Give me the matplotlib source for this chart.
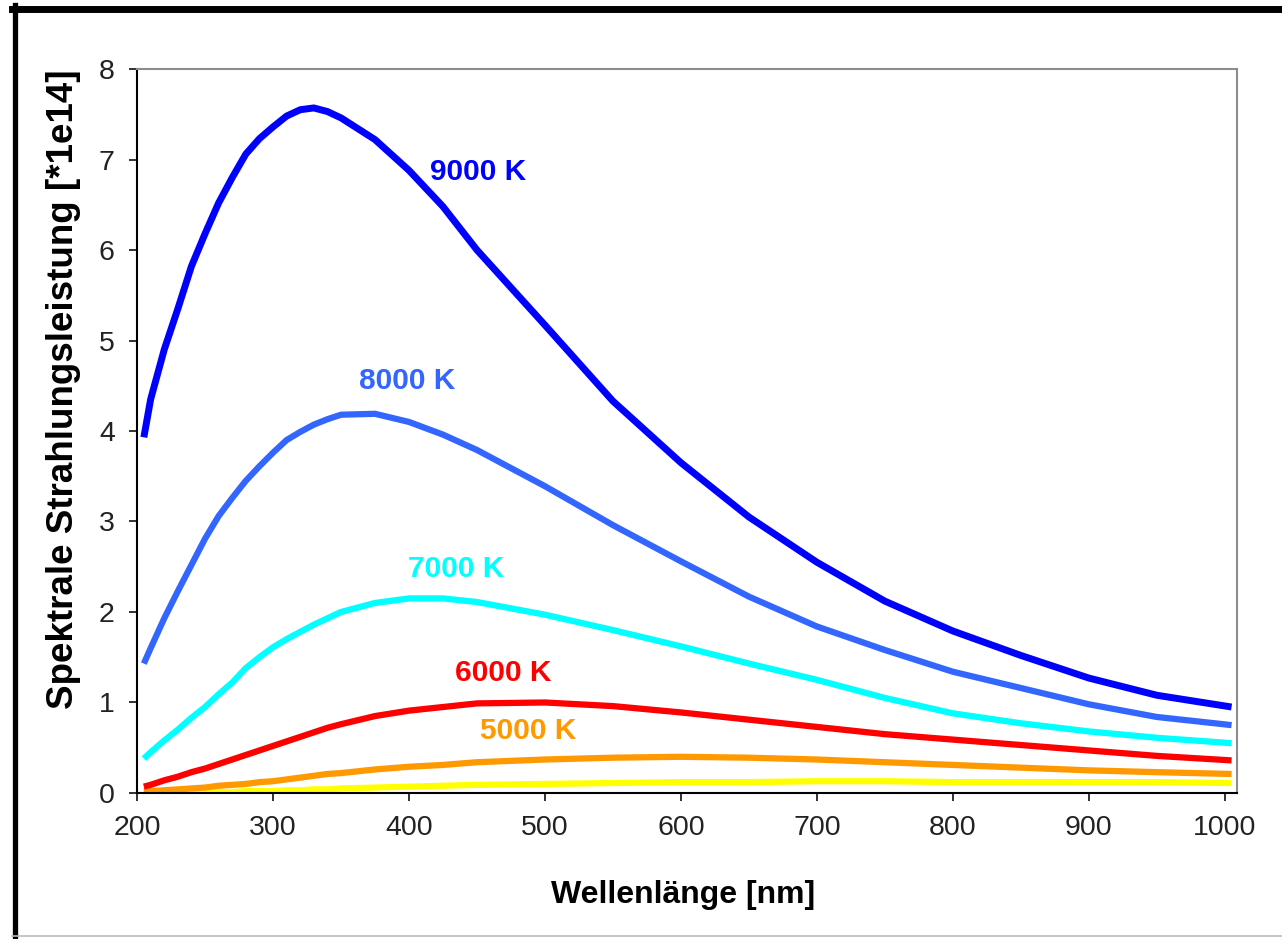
import matplotlib.pyplot as plt
from matplotlib.lines import Line2D

plt.rcParams['font.family'] = ['Liberation Sans', 'DejaVu Sans']

# wavelength [nm]
wl = [205, 210, 220, 230, 240, 250, 260, 270, 280, 290, 300, 310, 320, 330, 340, 350,
      375, 400, 425, 450, 500, 550, 600, 650, 700, 750, 800, 850, 900, 950, 1005]

# spectral radiance [*1e14]
t9000 = [3.93, 4.35, 4.90, 5.35, 5.82, 6.18, 6.52, 6.80, 7.06, 7.23, 7.36, 7.48, 7.55, 7.57, 7.53, 7.46,
         7.22, 6.88, 6.48, 6.00, 5.17, 4.33, 3.65, 3.05, 2.55, 2.12, 1.79, 1.52, 1.27, 1.08, 0.95]
t8000 = [1.43, 1.60, 1.93, 2.23, 2.52, 2.81, 3.06, 3.26, 3.45, 3.61, 3.76, 3.90, 3.99, 4.07, 4.13, 4.18,
         4.19, 4.10, 3.96, 3.79, 3.39, 2.96, 2.56, 2.17, 1.84, 1.58, 1.34, 1.16, 0.98, 0.84, 0.75]
t7000 = [0.38, 0.45, 0.58, 0.70, 0.83, 0.95, 1.09, 1.22, 1.38, 1.50, 1.61, 1.70, 1.78, 1.86, 1.93, 2.00,
         2.10, 2.15, 2.15, 2.11, 1.97, 1.80, 1.62, 1.43, 1.25, 1.05, 0.88, 0.77, 0.68, 0.61, 0.55]
t6000 = [0.07, 0.09, 0.14, 0.18, 0.23, 0.27, 0.32, 0.37, 0.42, 0.47, 0.52, 0.57, 0.62, 0.67, 0.72, 0.76,
         0.85, 0.91, 0.95, 0.99, 1.00, 0.96, 0.89, 0.81, 0.73, 0.65, 0.59, 0.53, 0.47, 0.41, 0.36]
t5000 = [0.02, 0.02, 0.03, 0.04, 0.05, 0.06, 0.08, 0.09, 0.10, 0.12, 0.13, 0.15, 0.17, 0.19, 0.21, 0.22,
         0.26, 0.29, 0.31, 0.34, 0.37, 0.39, 0.40, 0.39, 0.37, 0.34, 0.31, 0.28, 0.25, 0.23, 0.21]
t4000 = [0.00, 0.00, 0.00, 0.00, 0.01, 0.01, 0.01, 0.01, 0.02, 0.02, 0.02, 0.03, 0.03, 0.04, 0.04, 0.05,
         0.06, 0.07, 0.08, 0.09, 0.10, 0.11, 0.12, 0.12, 0.13, 0.13, 0.12, 0.12, 0.12, 0.12, 0.11]

series = [t4000, t5000, t6000, t7000, t8000, t9000]
colors = ['#FFFF00', '#FF9900', '#FF0000', '#00FFFF', '#3366FF', '#0000FF']
widths = [4.5, 4.5, 4.5, 4.5, 4.5, 5.0]

labels = ['9000 K', '8000 K', '7000 K', '6000 K', '5000 K']
label_x = [451, 399, 435, 469, 488]
label_y = [6.86, 4.55, 2.47, 1.33, 0.68]
label_colors = ['#0000FF', '#3366FF', '#00FFFF', '#FF0000', '#FF9900']

fig = plt.figure(figsize=(12.82, 9.39), dpi=100)
ax = fig.add_axes([0.1069, 0.1555, 0.858, 0.771])

for y, c, w in zip(series, colors, widths):
    ax.plot(wl, y, color=c, lw=w, solid_capstyle='butt', solid_joinstyle='round')

for t, x, y, c in zip(labels, label_x, label_y, label_colors):
    ax.text(x, y, t, color=c, fontsize=21.5, fontweight='bold', ha='center', va='center')

ax.set_xlim(200, 1009)
ax.set_ylim(0, 8)
ax.set_xticks(range(200, 1001, 100))
ax.set_yticks(range(0, 9))
ax.tick_params(direction='out', length=6, width=1.3, labelsize=20.5, pad=10, colors='#222222')

for s in ['top', 'right']:
    ax.spines[s].set_color('#8c8c8c')
    ax.spines[s].set_linewidth(1.5)
for s in ['left', 'bottom']:
    ax.spines[s].set_color('black')
    ax.spines[s].set_linewidth(1.5)

ax.set_xlabel('Wellenlänge [nm]', fontsize=23, fontweight='bold')
ax.set_ylabel('Spektrale Strahlungsleistung [*1e14]', fontsize=26.5, fontweight='bold')
ax.xaxis.set_label_coords(0.496, -0.12)
ax.yaxis.set_label_coords(-0.051, 0.558)

# window frame
fig.add_artist(Line2D([12 / 1282, 1], [1 - 8.5 / 939, 1 - 8.5 / 939], color='black', lw=5))
fig.add_artist(Line2D([14.5 / 1282, 14.5 / 1282], [0, 1 - 5 / 939], color='black', lw=3.8))
fig.add_artist(Line2D([12 / 1282, 1], [3 / 939, 3 / 939], color='#bbbbbb', lw=1.2))

fig.savefig('out.png', dpi=100)
